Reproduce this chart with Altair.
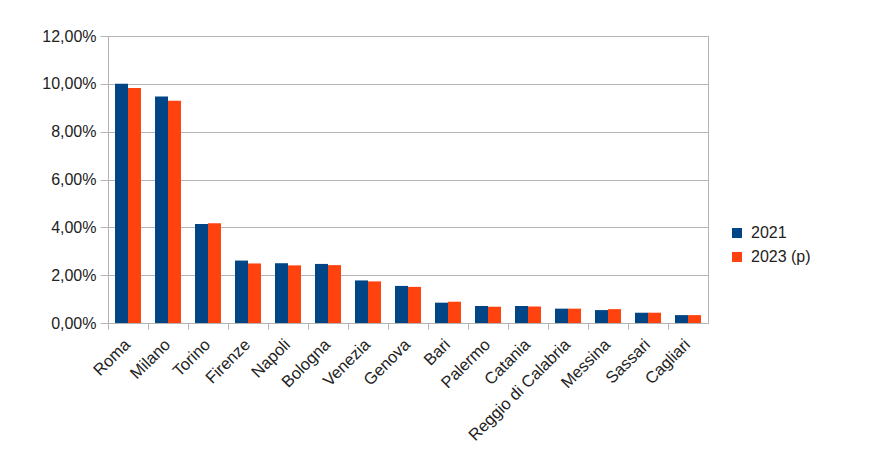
import altair as alt
import pandas as pd

cities = ["Roma", "Milano", "Torino", "Firenze", "Napoli", "Bologna", "Venezia",
          "Genova", "Bari", "Palermo", "Catania", "Reggio di Calabria", "Messina",
          "Sassari", "Cagliari"]
v2021 = [10.00, 9.47, 4.14, 2.61, 2.50, 2.47, 1.78, 1.55, 0.85, 0.71, 0.71, 0.60, 0.54, 0.43, 0.33]
v2023 = [9.83, 9.29, 4.17, 2.49, 2.41, 2.42, 1.74, 1.51, 0.89, 0.68, 0.69, 0.60, 0.58, 0.43, 0.33]
series = ["2021", "2023 (p)"]
colors = ["#004586", "#ff420e"]
yticks = [0, 0.02, 0.04, 0.06, 0.08, 0.10, 0.12]

rows = []
for c, a, b in zip(cities, v2021, v2023):
    rows.append({"city": c, "serie": series[0], "val": a / 100})
    rows.append({"city": c, "serie": series[1], "val": b / 100})
df = pd.DataFrame(rows)

font = "Liberation Sans"

chart = alt.Chart(df).mark_bar().encode(
    x=alt.X("city:N", sort=cities, title=None,
            scale=alt.Scale(paddingInner=0, paddingOuter=0),
            axis=alt.Axis(labelAngle=-45, bandPosition=0, tickSize=6, labelPadding=7,
                          labelOffset=-6, labelFontSize=16.5, labelFont=font, labelColor="#222",
                          domainColor="#b3b3b3", tickColor="#b3b3b3", grid=False)),
    xOffset=alt.XOffset("serie:N", sort=series,
                        scale=alt.Scale(paddingInner=0, paddingOuter=0.54)),
    y=alt.Y("val:Q", title=None,
            scale=alt.Scale(domain=[0, 0.12], nice=False),
            axis=alt.Axis(values=yticks, labelExpr="replace(format(datum.value, '.2%'), '.', ',')",
                          tickSize=8, labelPadding=4, labelFontSize=16, labelFont=font,
                          labelColor="#222", domainColor="#b3b3b3", tickColor="#b3b3b3",
                          gridColor="#b3b3b3", gridWidth=1)),
    color=alt.Color("serie:N", sort=series, title=None,
                    scale=alt.Scale(domain=series, range=colors),
                    legend=alt.Legend(orient="none", legendX=621, legendY=189,
                                      symbolType="square", symbolSize=100,
                                      symbolStrokeWidth=0, labelFontSize=16, labelFont=font,
                                      labelColor="#222", rowPadding=8, labelOffset=6)),
).properties(
    width=600, height=287,
    autosize=alt.AutoSizeParams(type="none"),
    padding={"left": 100, "top": 28, "right": 166, "bottom": 140},
).configure_view(stroke="#b3b3b3", strokeWidth=1)

chart.save("out.html", embed_options={"renderer": "svg", "actions": False})
